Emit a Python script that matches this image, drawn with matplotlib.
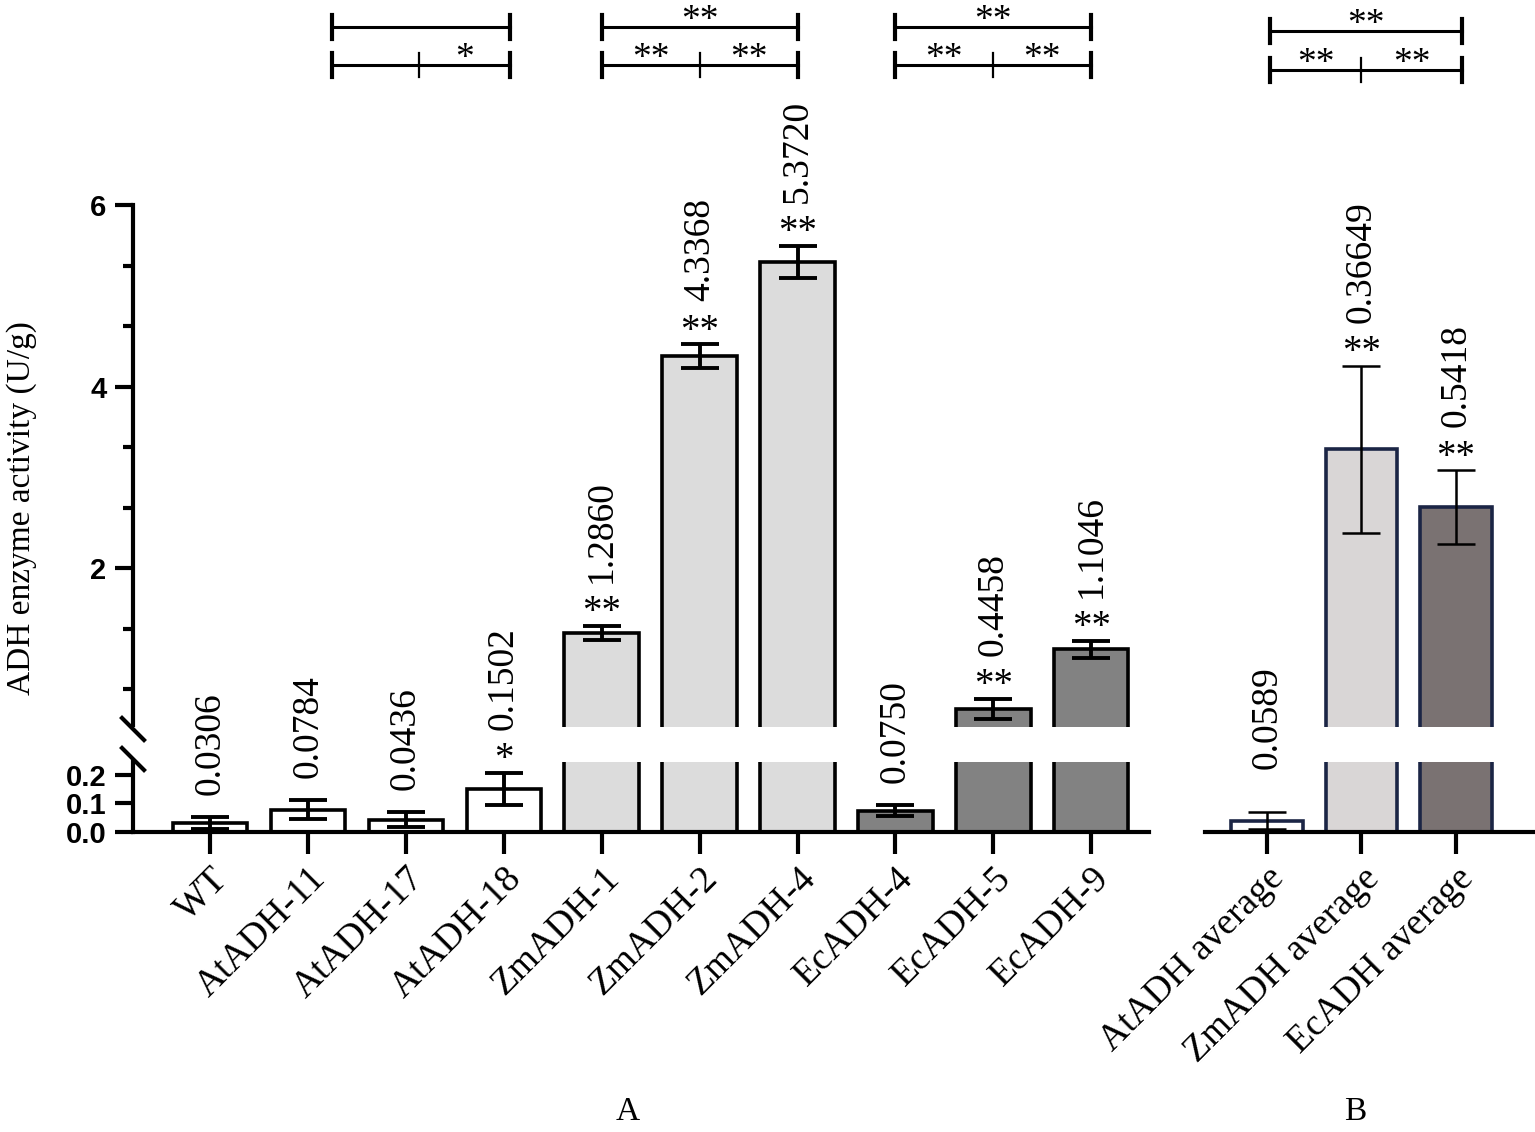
import numpy as np
import matplotlib
matplotlib.use("Agg")
import matplotlib.pyplot as plt
from matplotlib.ticker import FixedLocator

plt.rcParams['font.family'] = ['Liberation Serif', 'DejaVu Serif']

# Dados do painel A (linhas individuais)
linhas_A = ["WT", "AtADH-11", "AtADH-17", "AtADH-18", "ZmADH-1", "ZmADH-2",
            "ZmADH-4", "EcADH-4", "EcADH-5", "EcADH-9"]
media_A = [0.0306, 0.0784, 0.0436, 0.1502, 1.2860, 4.3368, 5.3720, 0.0750, 0.4458, 1.1046]
erro_A = [0.021, 0.033, 0.025, 0.057, 0.077, 0.13, 0.18, 0.02, 0.115, 0.095]
rotulo_A = ["0.0306", "0.0784", "0.0436", "0.1502", "1.2860", "4.3368", "5.3720",
            "0.0750", "0.4458", "1.1046"]
sig_A = ["", "", "", "*", "**", "**", "**", "", "**", "**"]

# Dados do painel B (médias por gene)
linhas_B = ["AtADH average", "ZmADH average", "EcADH average"]
media_B = [0.04, 3.31, 2.67]
erro_B = [0.031, 0.92, 0.41]
rotulo_B = ["0.0589", "0.36649", "0.5418"]
sig_B = ["", "**", "**"]

# Comparações entre linhas (posições dos colchetes e asteriscos)
colchetes_A = [([1.25, 2.13, 3.06], "", ["", "*"]),
               ([4, 5, 6], "**", ["**", "**"]),
               ([7, 8, 9], "**", ["**", "**"])]
colchetes_B = [([0.03, 1, 2.06], "**", ["**", "**"])]

# cores
cores_A = ["white"] * 4 + ["#dcdcdc"] * 3 + ["#828282"] * 3
cores_B = ["white", "#d9d6d6", "#7a7272"]
borda_B = "#1b2545"

W, H = 1535, 1132
fig = plt.figure(figsize=(W / 100, H / 100), dpi=100)


def caixa(x0, x1, ytop, ybot):
    return [x0 / W, (H - ybot) / H, (x1 - x0) / W, (ybot - ytop) / H]


# eixo quebrado: parte de cima e parte de baixo
axA_sup = fig.add_axes(caixa(133, 1149, 0, 727))
axA_inf = fig.add_axes(caixa(133, 1149, 762, 832))
axB_sup = fig.add_axes(caixa(1205, 1533, 0, 727))
axB_inf = fig.add_axes(caixa(1205, 1533, 762, 832))

lim_sup = (0.248, 8.259)
lim_inf = (0.0, 0.2456)

for ax in (axA_sup, axA_inf, axB_sup, axB_inf):
    ax.patch.set_visible(False)
    ax.spines['top'].set_visible(False)
    ax.spines['right'].set_visible(False)
    for s in ax.spines.values():
        s.set_linewidth(3)

axA_sup.set_xlim(-0.787, 9.59)
axA_inf.set_xlim(-0.787, 9.59)
axB_sup.set_xlim(-0.656, 2.815)
axB_inf.set_xlim(-0.656, 2.815)


def painel(ax_sup, ax_inf, nomes, medias, erros, rotulos, sigs, cores, borda, lw_bar, lw_err, gap_sem):
    x = np.arange(len(nomes))
    for ax in (ax_sup, ax_inf):
        ax.bar(x, medias, width=0.76, color=cores, edgecolor=borda, linewidth=lw_bar, zorder=2)
        ax.errorbar(x, medias, yerr=erros, fmt='none', ecolor='black', elinewidth=lw_err,
                    capsize=14, capthick=lw_err, zorder=3)
    ax_sup.set_ylim(*lim_sup)
    ax_inf.set_ylim(*lim_inf)

    # rótulos de dados (número na vertical, asteriscos na horizontal)
    for i in x:
        topo = medias[i] + erros[i]
        ax = ax_inf if topo < lim_inf[1] else ax_sup
        if sigs[i]:
            ax.annotate(sigs[i], (i, topo), xytext=(0, 2.5), textcoords='offset points',
                        ha='center', va='baseline', fontsize=28, annotation_clip=False)
            gap = 31
        else:
            gap = gap_sem
        ax.annotate(rotulos[i], (i, topo), xytext=(0, gap), textcoords='offset points',
                    rotation=90, ha='center', va='bottom', fontsize=27, annotation_clip=False)

    # eixo x
    ax_inf.set_xticks(x)
    ax_inf.set_xticklabels(nomes, rotation=45, ha='right', va='top',
                           rotation_mode='anchor', fontsize=27)
    ax_inf.tick_params(axis='x', length=16, width=3, pad=5)
    ax_sup.set_xticks([])
    ax_sup.spines['bottom'].set_visible(False)


painel(axA_sup, axA_inf, linhas_A, media_A, erro_A, rotulo_A, sig_A, cores_A, "black", 2.6, 2.8, 16)
painel(axB_sup, axB_inf, linhas_B, media_B, erro_B, rotulo_B, sig_B, cores_B, borda_B, 2.6, 1.8, 31)

# eixo y do painel A
axA_sup.set_yticks([2, 4, 6])
axA_sup.yaxis.set_minor_locator(FixedLocator([k * 2 / 3 for k in range(1, 9) if k % 3]))
axA_sup.spines['left'].set_bounds(0.27, 6)
axA_sup.tick_params(axis='y', which='major', length=13, width=3, pad=6)
axA_sup.tick_params(axis='y', which='minor', length=7, width=3)
axA_inf.set_yticks([0, 0.1, 0.2])
axA_inf.set_yticklabels(["0.0", "0.1", "0.2"])
axA_inf.tick_params(axis='y', length=13, width=3, pad=6)
for ax in (axA_sup, axA_inf):
    for lb in ax.get_yticklabels():
        lb.set_fontfamily('Liberation Sans')
        lb.set_fontweight('bold')
        lb.set_fontsize(21)

# painel B sem eixo y
axB_sup.spines['left'].set_visible(False)
axB_inf.spines['left'].set_visible(False)
axB_sup.set_yticks([])
axB_inf.set_yticks([])

# marcas de quebra do eixo
dx = 11 / 1016
axA_sup.plot([-dx, dx], [(-2 + 11) / 727, (-2 - 11) / 727], transform=axA_sup.transAxes,
             color='black', lw=3, clip_on=False)
axA_inf.plot([-dx, dx], [1 + (3 + 11) / 70, 1 + (3 - 11) / 70], transform=axA_inf.transAxes,
             color='black', lw=3, clip_on=False)


# colchetes de significância
def colchete(ax, pos, y_topo, y_baixo, est_topo, est_baixo):
    h = 0.13
    ax.plot([pos[0], pos[-1]], [y_topo, y_topo], color='black', lw=2.2, clip_on=False)
    for p in (pos[0], pos[-1]):
        ax.plot([p, p], [y_topo - h, y_topo + h], color='black', lw=3, clip_on=False)
    ax.plot([pos[0], pos[-1]], [y_baixo, y_baixo], color='black', lw=2.2, clip_on=False)
    for k, p in enumerate(pos):
        lw = 3 if k in (0, len(pos) - 1) else 1.6
        ax.plot([p, p], [y_baixo - h, y_baixo + h], color='black', lw=lw, clip_on=False)
    if est_topo:
        ax.annotate(est_topo, ((pos[0] + pos[-1]) / 2, y_topo), xytext=(0, -2),
                    textcoords='offset points', ha='center', va='baseline', fontsize=27,
                    annotation_clip=False)
    for a, b, s in zip(pos[:-1], pos[1:], est_baixo):
        if s:
            ax.annotate(s, ((a + b) / 2, y_baixo), xytext=(0, -2),
                        textcoords='offset points', ha='center', va='baseline', fontsize=27,
                        annotation_clip=False)


for pos, et, eb in colchetes_A:
    colchete(axA_sup, pos, 7.96, 7.54, et, eb)
for pos, et, eb in colchetes_B:
    colchete(axB_sup, pos, 7.92, 7.49, et, eb)

# títulos
fig.text(22 / W, 1 - 508 / H, "ADH enzyme activity (U/g)", rotation=90,
         ha='center', va='center', fontsize=24)
fig.text(628 / W, 1 - 1112 / H, "A", ha='center', va='center', fontsize=24)
fig.text(1355 / W, 1 - 1112 / H, "B", ha='center', va='center', fontsize=24)

fig.savefig("out.png", dpi=100, facecolor='white')
